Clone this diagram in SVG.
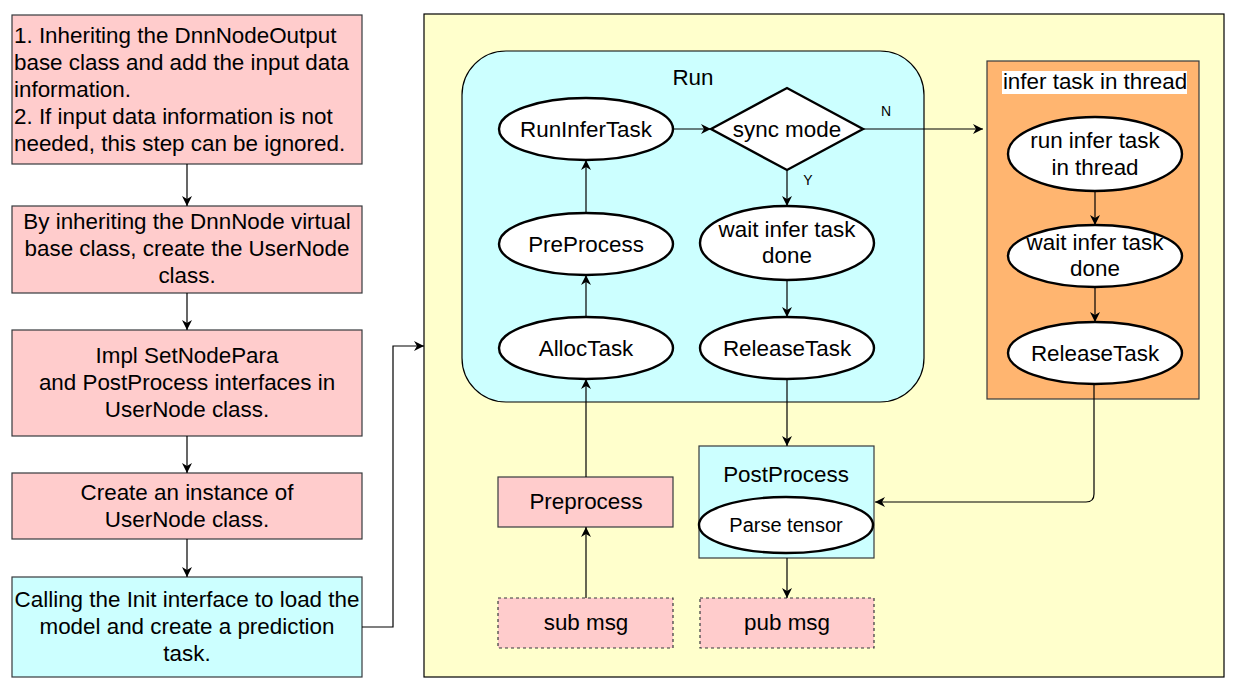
<svg xmlns="http://www.w3.org/2000/svg" width="1237" height="691" viewBox="0 0 1237 691">
<style>
text{font-family:"Liberation Sans",Arial,sans-serif;font-size:22.4px;fill:#000;text-anchor:middle}
.pink{fill:#FFCCCC;stroke:#36393d;stroke-width:1.2}
.cyan{fill:#CCFFFF;stroke:#36393d;stroke-width:1.2}
.dash{fill:#FFCCCC;stroke:#36393d;stroke-width:1.2;stroke-dasharray:3 3}
.ell{fill:#fff;stroke:#000;stroke-width:2.4}
.c{fill:none;stroke:#000;stroke-width:1.2}
.sm{font-size:14px}
</style>
<defs>
<marker id="a" viewBox="0 0 10 10" refX="10" refY="5" markerWidth="10" markerHeight="10" markerUnits="userSpaceOnUse" orient="auto">
<path d="M0,0 L10,5 L0,10 L3,5 z" fill="#000"/>
</marker>
</defs>
<rect width="1237" height="691" fill="#fff"/>

<g id="box1"><rect class="pink" x="12" y="15" width="350" height="149"/>
<text x="14" y="43" style="text-anchor:start">1. Inheriting the DnnNodeOutput</text>
<text x="14" y="70" style="text-anchor:start">base class and add the input data</text>
<text x="14" y="97" style="text-anchor:start">information.</text>
<text x="14" y="124" style="text-anchor:start">2. If input data information is not</text>
<text x="14" y="151" style="text-anchor:start">needed, this step can be ignored.</text></g>
<g id="box2"><rect class="pink" x="12" y="206" width="350" height="87"/>
<text x="187" y="229">By inheriting the DnnNode virtual</text>
<text x="187" y="256">base class, create the UserNode</text>
<text x="187" y="283">class.</text></g>
<g id="box3"><rect class="pink" x="12" y="330" width="350" height="106"/>
<text x="187" y="363">Impl SetNodePara</text>
<text x="187" y="390">and PostProcess interfaces in</text>
<text x="187" y="417">UserNode class.</text></g>
<g id="box4"><rect class="pink" x="12" y="473" width="350" height="66"/>
<text x="187" y="500">Create an instance of</text>
<text x="187" y="527">UserNode class.</text></g>
<g id="box5"><rect class="cyan" x="12" y="577" width="350" height="100"/>
<text x="187" y="607">Calling the Init interface to load the</text>
<text x="187" y="634">model and create a prediction</text>
<text x="187" y="661">task.</text></g>

<g id="main"><rect x="424" y="14" width="800" height="663" fill="#FFFFCC" stroke="#000" stroke-width="1.2"/></g>
<g id="run"><rect x="462" y="51" width="462" height="351" rx="44" ry="44" fill="#CCFFFF" stroke="#000" stroke-width="1.2"/>
<text x="693" y="85">Run</text></g>
<g id="thread"><rect x="987" y="61" width="212" height="338" fill="#FFB570" stroke="#36393d" stroke-width="1.2"/>
<rect x="1002" y="71" width="185" height="23" fill="#fff"/>
<text x="1095" y="89">infer task in thread</text></g>

<g id="runInferTask"><ellipse class="ell" cx="586" cy="129" rx="87" ry="31"/><text x="586" y="137">RunInferTask</text></g>
<g id="preProcessE"><ellipse class="ell" cx="586" cy="244" rx="87" ry="31"/><text x="586" y="252">PreProcess</text></g>
<g id="allocTask"><ellipse class="ell" cx="586" cy="348" rx="87" ry="31"/><text x="586" y="356">AllocTask</text></g>
<g id="syncMode"><polygon class="ell" points="711,129 787,88 863,129 787,170"/><text x="787" y="137">sync mode</text></g>
<g id="waitRun"><ellipse class="ell" cx="787" cy="243" rx="87" ry="37"/><text x="787" y="237">wait infer task</text><text x="787" y="263">done</text></g>
<g id="releaseRun"><ellipse class="ell" cx="787" cy="348" rx="87" ry="31"/><text x="787" y="356">ReleaseTask</text></g>

<g id="runThread"><ellipse class="ell" cx="1095" cy="154" rx="87" ry="37"/><text x="1095" y="148">run infer task</text><text x="1095" y="175">in thread</text></g>
<g id="waitThread"><ellipse class="ell" cx="1095" cy="256" rx="87" ry="31"/><text x="1095" y="250">wait infer task</text><text x="1095" y="276">done</text></g>
<g id="releaseThread"><ellipse class="ell" cx="1095" cy="353" rx="87" ry="31"/><text x="1095" y="361">ReleaseTask</text></g>

<g id="postProcess"><rect class="cyan" x="699" y="446" width="175" height="112"/>
<text x="786" y="482">PostProcess</text>
<ellipse class="ell" cx="786" cy="525" rx="87" ry="28"/>
<text x="786" y="532" style="font-size:20px">Parse tensor</text></g>
<g id="preprocess"><rect class="pink" x="498" y="477" width="175" height="50"/><text x="586" y="509">Preprocess</text></g>
<g id="subMsg"><rect class="dash" x="498" y="598" width="175" height="50"/><text x="586" y="630">sub msg</text></g>
<g id="pubMsg"><rect class="dash" x="700" y="598" width="174" height="50"/><text x="787" y="630">pub msg</text></g>

<g id="connectors">
<path class="c" d="M187,164 V206" marker-end="url(#a)"/>
<path class="c" d="M187,293 V330" marker-end="url(#a)"/>
<path class="c" d="M187,436 V473" marker-end="url(#a)"/>
<path class="c" d="M187,539 V577" marker-end="url(#a)"/>
<path class="c" d="M362,627 H393 V346 H424" marker-end="url(#a)"/>
<path class="c" d="M586,317 V275" marker-end="url(#a)"/>
<path class="c" d="M586,213 V160" marker-end="url(#a)"/>
<path class="c" d="M673,129 H711" marker-end="url(#a)"/>
<path class="c" d="M863,129 H983" marker-end="url(#a)"/>
<path class="c" d="M787,170 V206" marker-end="url(#a)"/>
<path class="c" d="M787,280 V317" marker-end="url(#a)"/>
<path class="c" d="M1095,191 V225" marker-end="url(#a)"/>
<path class="c" d="M1095,287 V322" marker-end="url(#a)"/>
<path class="c" d="M787,379 V446" marker-end="url(#a)"/>
<path class="c" d="M787,558 V598" marker-end="url(#a)"/>
<path class="c" d="M586,598 V527" marker-end="url(#a)"/>
<path class="c" d="M586,477 V379" marker-end="url(#a)"/>
<path class="c" d="M1094,384 V494 Q1094,502 1086,502 H875" marker-end="url(#a)"/>
<text class="sm" x="886" y="116">N</text>
<text class="sm" x="808" y="185">Y</text>
</g>
</svg>
